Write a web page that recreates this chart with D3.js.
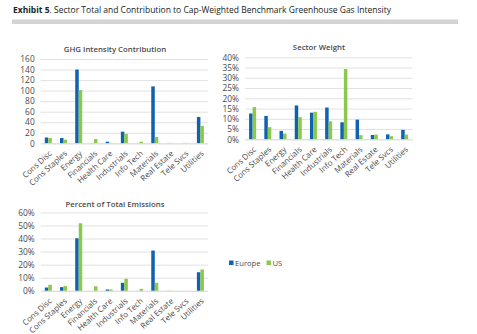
<!DOCTYPE html>
<html>
<head>
<meta charset="utf-8">
<script src="https://cdn.jsdelivr.net/npm/d3@7"></script>
<style>
  body { margin: 0; background: #fff; }
  svg { display: block; font-family: "Open Sans", sans-serif; }
  .tick text { fill: #4a4a4a; }
</style>
</head>
<body>
<svg id="canvas"></svg>
<script>
var canvasWidth = 477;
var canvasHeight = 334;

// Sectors along the x axis of every panel
var sectors = ['Cons Disc', 'Cons Staples', 'Energy', 'Financials', 'Health Care',
  'Industrials', 'Info Tech', 'Materials', 'Real Estate', 'Tele Svcs', 'Utilities'];

var seriesNames = ['Europe', 'US'];

// GHG intensity contribution (tCO2e / $M sales)
var ghgEurope = [11, 10, 140, 1, 3, 22, 1, 108, 1, 1, 50];
var ghgUS = [10, 7, 101, 8, 2, 18, 3, 12, 1, 1, 33];
var ghgTicks = [0, 20, 40, 60, 80, 100, 120, 140, 160];

// Sector weight (%)
var weightEurope = [12.6, 11.4, 4.1, 16.5, 13.0, 15.5, 8.3, 9.6, 2.1, 2.4, 4.6];
var weightUS = [15.7, 5.9, 2.8, 10.8, 13.4, 8.8, 34.3, 2.0, 2.3, 1.5, 2.3];
var weightTicks = [0, 5, 10, 15, 20, 25, 30, 35, 40];

// Percent of total emissions (%)
var emisEurope = [2.5, 2.8, 40.2, 0.2, 1.0, 6.1, 0.3, 30.8, 0.3, 0, 14.2];
var emisUS = [4.6, 3.6, 51.7, 3.5, 1.0, 9.2, 1.5, 6.1, 0.3, 0, 16.3];
var emisTicks = [0, 10, 20, 30, 40, 50, 60];

var colors = { Europe: '#0f62ae', US: '#8cc84b' };
var faint = { Europe: '#c9d9ea', US: '#dcebc8' };

var svg = d3.select('#canvas')
  .attr('width', canvasWidth)
  .attr('height', canvasHeight);

// Exhibit heading
var heading = svg.append('text')
  .attr('x', 13)
  .attr('y', 13)
  .attr('font-size', 8.5)
  .attr('fill', '#222');
heading.append('tspan').attr('font-weight', 700).text('Exhibit 5');
heading.append('tspan').text('. Sector Total and Contribution to Cap-Weighted Benchmark Greenhouse Gas Intensity');

svg.append('rect')
  .attr('x', 12)
  .attr('y', 19.5)
  .attr('width', 446)
  .attr('height', 4.5)
  .attr('fill', '#d4d4d4');

var panels = [
  { title: 'GHG Intensity Contribution', europe: ghgEurope, us: ghgUS, ticks: ghgTicks,
    pct: false, left: 40.7, right: 208, top: 59, bottom: 143.3, titleX: 115, titleY: 51.5 },
  { title: 'Sector Weight', europe: weightEurope, us: weightUS, ticks: weightTicks,
    pct: true, left: 245, right: 412.3, top: 57.3, bottom: 139.3, titleX: 319, titleY: 50 },
  { title: 'Percent of Total Emissions', europe: emisEurope, us: emisUS, ticks: emisTicks,
    pct: true, left: 40.7, right: 208, top: 212.4, bottom: 290.8, titleX: 115, titleY: 206.5 }
];

panels.forEach(drawPanel);

function drawPanel(p) {
  var x = d3.scaleBand()
    .domain(sectors)
    .range([p.left, p.right])
    .paddingInner(0.54)
    .paddingOuter(0.27);

  var sub = d3.scaleBand()
    .domain(seriesNames)
    .range([0, x.bandwidth()]);

  var y = d3.scaleLinear()
    .domain([0, d3.max(p.ticks)])
    .range([p.bottom, p.top]);

  var g = svg.append('g');

  // Horizontal gridlines
  var yAxis = d3.axisLeft(y)
    .tickValues(p.ticks)
    .tickSize(-(p.right - p.left))
    .tickPadding(6)
    .tickFormat(function(d) { return p.pct ? d + '%' : d; });

  var yg = g.append('g')
    .attr('transform', 'translate(' + p.left + ',0)')
    .call(yAxis);
  yg.select('.domain').remove();
  yg.selectAll('.tick line').attr('stroke', '#d9d9d9').attr('stroke-width', 0.8);
  yg.selectAll('.tick text')
    .attr('font-size', 8.4)
    .attr('font-family', '"Open Sans", sans-serif');

  // Bars
  var rows = sectors.map(function(s, i) {
    return [{ sector: s, name: 'Europe', value: p.europe[i] },
            { sector: s, name: 'US', value: p.us[i] }];
  });

  g.append('g')
    .selectAll('g')
    .data(rows)
    .enter()
    .append('g')
    .attr('transform', function(d) { return 'translate(' + x(d[0].sector) + ',0)'; })
    .selectAll('rect')
    .data(function(d) { return d; })
    .enter()
    .append('rect')
    .attr('x', function(d) { return sub(d.name); })
    .attr('width', sub.bandwidth())
    .attr('y', function(d) { return y(d.value); })
    .attr('height', function(d) { return y(0) - y(d.value); })
    .attr('fill', function(d) {
      // very small bars come out washed out
      return (y(0) - y(d.value)) < 1.2 ? faint[d.name] : colors[d.name];
    });

  // Sector labels, slanted
  var xAxis = d3.axisBottom(x).tickSize(0).tickPadding(0);
  var xg = g.append('g')
    .attr('transform', 'translate(0,' + p.bottom + ')')
    .call(xAxis);
  xg.select('.domain').attr('stroke', '#d9d9d9').attr('stroke-width', 0.8);
  xg.selectAll('.tick text')
    .attr('font-size', 8)
    .attr('font-family', '"Open Sans", sans-serif')
    .attr('text-anchor', 'end')
    .attr('dy', 0)
    .attr('y', 0)
    .attr('transform', 'translate(4,11) rotate(-42)');

  g.append('text')
    .attr('x', p.titleX)
    .attr('y', p.titleY)
    .attr('text-anchor', 'middle')
    .attr('font-size', 7.8)
    .attr('font-weight', 600)
    .attr('fill', '#4a4a4a')
    .text(p.title);
}

// Legend
var legend = svg.append('g')
  .attr('transform', 'translate(229,263)');

var items = legend.selectAll('g')
  .data(seriesNames)
  .enter()
  .append('g')
  .attr('transform', function(d, i) { return 'translate(' + (i * 37.5) + ',0)'; });

items.append('rect')
  .attr('x', 0)
  .attr('y', -2.5)
  .attr('width', 4.5)
  .attr('height', 4.5)
  .attr('fill', function(d) { return colors[d]; });

items.append('text')
  .attr('x', 6)
  .attr('y', 2.5)
  .attr('font-size', 7.6)
  .attr('fill', '#4a4a4a')
  .text(function(d) { return d; });
</script>
</body>
</html>
